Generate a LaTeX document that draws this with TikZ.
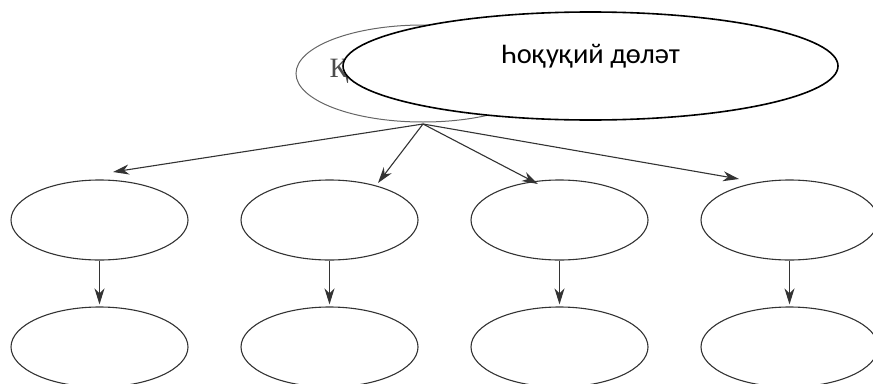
\documentclass[tikz,border=0pt]{standalone}
\usepackage{fontspec}
\setmainfont{Carlito}
\newfontfamily\serifcyr{Liberation Serif}
\usetikzlibrary{shapes.geometric,arrows.meta}
\definecolor{lineg}{HTML}{333333}
\tikzset{
  oval/.style={ellipse, draw=lineg, line width=1.1pt, fill=white, inner sep=0pt,
    minimum width=177pt, minimum height=80pt},
  link/.style={draw=lineg, line width=1.1pt, -{Stealth[length=16pt,width=10pt,inset=5pt]}},
}
\begin{document}
\begin{tikzpicture}[x=1pt,y=-1pt]
\useasboundingbox (0,0) rectangle (873,383);
% background top ellipse
\node[ellipse, draw=gray!80!black, line width=1pt, inner sep=0pt,
  minimum width=254pt, minimum height=97pt] (back) at (423,73.5) {};
\node[anchor=base west, inner sep=0pt, text=black!70,
  font=\serifcyr\fontsize{28}{30}\selectfont] (backtxt) at (329.5,77) {Қ};
% foreground ellipse
\node[ellipse, draw=black, line width=1.6pt, fill=white, inner sep=0pt,
  minimum width=495pt, minimum height=108pt] (front) at (590.5,66) {};
\node[anchor=base, inner sep=0pt, font=\fontsize{28.5}{32}\selectfont]
  (fronttxt) at (590.5,63) {Һоқуқий дөләт};
% rows
\foreach \i/\x in {1/99.5,2/329.5,3/559.5,4/789.5}{
  \node[oval] (a\i) at (\x,220) {};
  \node[oval] (b\i) at (\x,347) {};
  \draw[link] (a\i.south) -- ([yshift=2pt]b\i.north);
}
\coordinate (src) at (423,124);
\coordinate (t1) at (113,172);
\coordinate (t2) at (378,183);
\coordinate (t3) at (538,184);
\coordinate (t4) at (739,179);
\foreach \j in {1,2,3,4}{
  \draw[link] (src) -- (t\j);
}
\end{tikzpicture}
\end{document}
